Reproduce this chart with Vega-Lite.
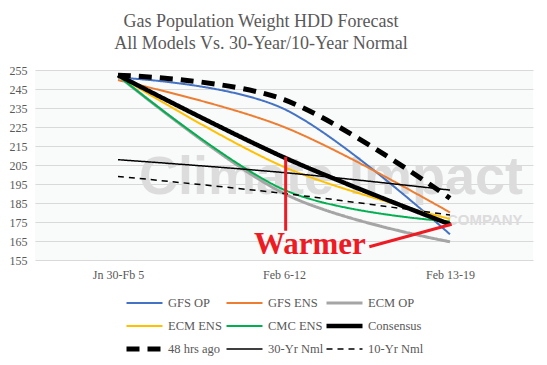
{
  "$schema": "https://vega.github.io/schema/vega-lite/v6.json",
  "width": 498,
  "height": 190,
  "autosize": {"type": "none"},
  "padding": {"left": 35, "top": 70, "right": 14, "bottom": 105},
  "background": "white",
  "title": {
    "text": ["Gas Population Weight HDD Forecast", "All Models Vs. 30-Year/10-Year Normal"],
    "font": "Liberation Serif",
    "fontSize": 18,
    "fontWeight": "normal",
    "color": "#595959",
    "anchor": "middle",
    "dx": -23,
    "offset": 11,
    "lineHeight": 22
  },
  "config": {
    "view": {"stroke": null, "fill": "#f9fafa"},
    "font": "Liberation Serif",
    "axis": {"labelFont": "Liberation Serif", "labelColor": "#595959", "labelFontSize": 12},
    "legend": {
      "labelFont": "Liberation Serif",
      "labelColor": "#595959",
      "labelFontSize": 12.5,
      "symbolType": "stroke",
      "symbolSize": 1296,
      "columnPadding": -3,
      "gridAlign": "all",
      "rowPadding": 7,
      "clipHeight": 16,
      "labelOffset": 3
    }
  },
  "encoding": {
    "x": {
      "field": "x",
      "type": "quantitative",
      "scale": {"domain": [-0.5, 2.5], "nice": false, "zero": false},
      "axis": {
        "values": [0, 1, 2],
        "labelExpr": "datum.value == 0 ? 'Jn 30-Fb 5' : datum.value == 1 ? 'Feb 6-12' : 'Feb 13-19'",
        "grid": false,
        "ticks": false,
        "domain": false,
        "labelPadding": 9,
        "labelFont": "Liberation Serif",
        "labelOverlap": false,
        "labelFlush": false,
        "title": null
      }
    },
    "y": {
      "field": "y",
      "type": "quantitative",
      "scale": {"domain": [155, 255], "nice": false, "zero": false},
      "axis": {
        "values": [155, 165, 175, 185, 195, 205, 215, 225, 235, 245, 255],
        "grid": true,
        "gridColor": "#d9d9d9",
        "gridWidth": 1,
        "ticks": false,
        "domain": false,
        "labelPadding": 8,
        "labelFont": "Liberation Serif",
        "labelOverlap": false,
        "labelFlush": false,
        "title": null
      }
    }
  },
  "layer": [
    {
      "data": {"values": [
        {"x": 1.283, "y": 190, "label": "Climate Impact", "size": 54},
        {"x": 2.209, "y": 173.4, "label": "COMPANY", "size": 15}
      ]},
      "mark": {"type": "text", "font": "Liberation Sans", "fontWeight": "bold", "color": "#dcdcdc", "align": "center", "baseline": "alphabetic"},
      "encoding": {
        "text": {"field": "label"},
        "size": {"field": "size", "type": "quantitative", "scale": null}
      }
    },
    {
      "data": {"values": [
        {"series": "GFS OP", "x": 0, "y": 251},
        {"series": "GFS OP", "x": 1, "y": 234.5},
        {"series": "GFS OP", "x": 2, "y": 168.5},
        {"series": "GFS ENS", "x": 0, "y": 249.7},
        {"series": "GFS ENS", "x": 1, "y": 225},
        {"series": "GFS ENS", "x": 2, "y": 180},
        {"series": "ECM OP", "x": 0, "y": 252},
        {"series": "ECM OP", "x": 1, "y": 190},
        {"series": "ECM OP", "x": 2, "y": 164.6},
        {"series": "ECM ENS", "x": 0, "y": 252},
        {"series": "ECM ENS", "x": 1, "y": 204},
        {"series": "ECM ENS", "x": 2, "y": 176.6},
        {"series": "CMC ENS", "x": 0, "y": 252},
        {"series": "CMC ENS", "x": 1, "y": 192},
        {"series": "CMC ENS", "x": 2, "y": 175.3},
        {"series": "Consensus", "x": 0, "y": 252.3},
        {"series": "Consensus", "x": 1, "y": 209},
        {"series": "Consensus", "x": 2, "y": 173.8},
        {"series": "48 hrs ago", "x": 0, "y": 252.3},
        {"series": "48 hrs ago", "x": 1, "y": 239.4},
        {"series": "48 hrs ago", "x": 2, "y": 187.5},
        {"series": "30-Yr Nml", "x": 0, "y": 207.8},
        {"series": "30-Yr Nml", "x": 1, "y": 201},
        {"series": "30-Yr Nml", "x": 2, "y": 191.8},
        {"series": "10-Yr Nml", "x": 0, "y": 199},
        {"series": "10-Yr Nml", "x": 1, "y": 190},
        {"series": "10-Yr Nml", "x": 2, "y": 178.7}
      ]},
      "mark": {"type": "line", "interpolate": "cardinal", "tension": 0},
      "encoding": {
        "color": {
          "field": "series",
          "type": "nominal",
          "scale": {
            "domain": ["GFS OP", "GFS ENS", "ECM OP", "ECM ENS", "CMC ENS", "Consensus", "48 hrs ago", "30-Yr Nml", "10-Yr Nml"],
            "range": ["#4472c4", "#ed7d31", "#a5a5a5", "#ffc000", "#00b050", "#000000", "#000000", "#000000", "#000000"]
          },
          "legend": {
            "orient": "none",
            "legendX": 89,
            "legendY": 225,
            "columns": 3,
            "direction": "horizontal",
            "title": null
          }
        },
        "strokeDash": {
          "field": "series",
          "type": "nominal",
          "scale": {
            "domain": ["GFS OP", "GFS ENS", "ECM OP", "ECM ENS", "CMC ENS", "Consensus", "48 hrs ago", "30-Yr Nml", "10-Yr Nml"],
            "range": [[1, 0], [1, 0], [1, 0], [1, 0], [1, 0], [1, 0], [13, 8], [1, 0], [6, 5]]
          }
        },
        "strokeWidth": {
          "field": "series",
          "type": "ordinal",
          "scale": {
            "type": "ordinal",
            "domain": ["GFS OP", "GFS ENS", "ECM OP", "ECM ENS", "CMC ENS", "Consensus", "48 hrs ago", "30-Yr Nml", "10-Yr Nml"],
            "range": [2, 2, 3, 2, 2, 4.5, 5, 1.5, 1.5]
          }
        }
      }
    },
    {
      "data": {"values": [
        {"x": 1.01, "y": 209.3, "x2": 1.01, "y2": 170.4},
        {"x": 1.514, "y": 162.0, "x2": 2.01, "y2": 173.8}
      ]},
      "mark": {"type": "rule", "color": "#ed1c24", "strokeWidth": 3},
      "encoding": {
        "x2": {"field": "x2"},
        "y2": {"field": "y2"}
      }
    },
    {
      "data": {"values": [{"x": 1.156, "y": 158, "label": "Warmer"}]},
      "mark": {"type": "text", "font": "Liberation Serif", "fontWeight": "bold", "fontSize": 31, "color": "#ed1c24", "align": "center", "baseline": "alphabetic"},
      "encoding": {"text": {"field": "label"}}
    }
  ]
}
